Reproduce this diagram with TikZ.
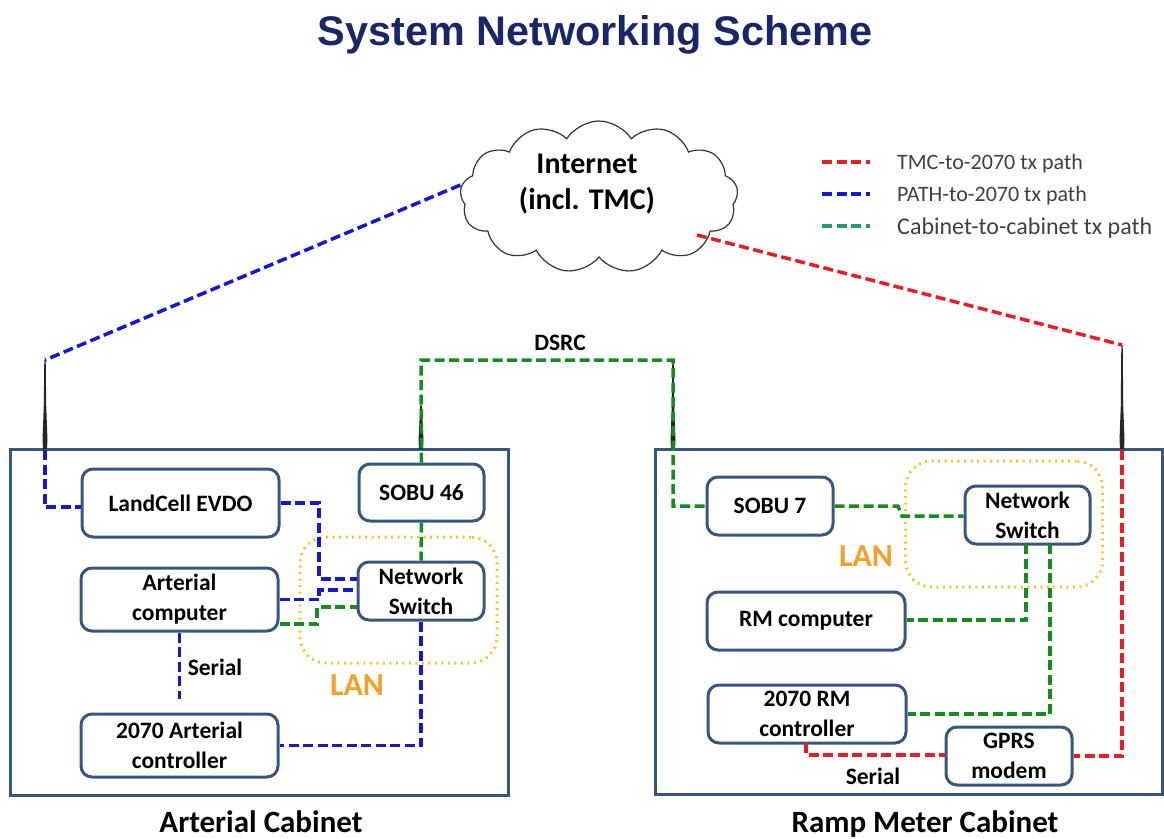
\documentclass[tikz,border=0pt]{standalone}
\usepackage{fontspec}
\setmainfont{Carlito}
\newfontfamily\titlefont{Liberation Sans}
\definecolor{myborder}{RGB}{56,87,128}
\definecolor{mynavy}{RGB}{25,38,105}
\definecolor{myred}{RGB}{235,28,36}
\definecolor{myblue}{RGB}{22,22,215}
\definecolor{mygreen}{RGB}{20,140,30}
\definecolor{myteal}{RGB}{30,160,100}
\definecolor{myyellow}{RGB}{245,200,40}
\definecolor{myorange}{RGB}{245,160,40}
\usetikzlibrary{shapes.symbols,positioning}
\tikzstyle{cabinet}=[draw=myborder,line width=3pt,minimum width=498pt,minimum height=346pt,inner sep=0pt]
\tikzstyle{device}=[draw=myborder,fill=white,line width=3pt,rounded corners=11pt,align=center,inner sep=0pt,font=\bfseries\fontsize{23.5}{30}\selectfont]
\tikzstyle{lanbox}=[draw=myyellow,line width=3pt,dash pattern=on 2pt off 4.5pt,rounded corners=26pt,minimum width=197pt,minimum height=126pt,inner sep=0pt]
\tikzstyle{lanlabel}=[text=myorange,font=\bfseries\fontsize{32}{36}\selectfont]
\tikzstyle{caption}=[anchor=base,inner sep=0pt,font=\bfseries\fontsize{31}{36}\selectfont]
\tikzstyle{linklabel}=[font=\bfseries\fontsize{23.5}{26}\selectfont]
\tikzstyle{legendlabel}=[anchor=west,inner sep=0pt,text=black!75,font=\fontsize{22}{26}\selectfont]
\tikzstyle{antenna}=[fill=black!85]
\tikzstyle{link}=[line width=3.5pt,dash pattern=on 10pt off 4.5pt]
\tikzstyle{bluelink}=[link,draw=myblue]
\tikzstyle{redlink}=[link,draw=myred]
\tikzstyle{greenlink}=[link,draw=mygreen]

\begin{document}
\begin{tikzpicture}[x=1pt,y=-1pt]
\useasboundingbox (0, 0) rectangle (1164, 838);
\draw (595, 35) node [text=mynavy,font=\titlefont\bfseries\fontsize{41.4}{46}\selectfont] (title) {System Networking Scheme};

\draw (599, 197) node [cloud,draw=black!80,fill=white,line width=1.2pt,cloud puffs=13,cloud puff arc=115,aspect=1.85,minimum width=278pt,minimum height=152pt,inner sep=0pt] (internet) {};
\draw (587, 184) node [align=center,inner sep=0pt,font=\bfseries\fontsize{30}{36}\selectfont] (internetlabel) {Internet\\(incl. TMC)};

\draw (259, 622) node [cabinet] (arterial) {};
\draw (908.5, 621.5) node [cabinet,minimum width=507pt,minimum height=345pt] (ramp) {};

\draw (398.5, 600) node [lanbox] (lanA) {};
\draw (1004, 524) node [lanbox] (lanB) {};

\coordinate (tipA) at (45, 360);
\coordinate (tipB) at (421, 360);
\coordinate (tipC) at (673, 360);
\coordinate (tipD) at (1122, 345);

\draw (180.5, 503) node [device,minimum width=197pt,minimum height=68pt] (landcell) {LandCell EVDO};
\draw (421.5, 492.5) node [device,minimum width=125pt,minimum height=57pt] (sobuA) {SOBU 46};
\draw (421, 591) node [device,minimum width=126pt,minimum height=58pt] (switchA) {Network\\Switch};
\draw (179.5, 599.5) node [device,minimum width=197pt,minimum height=63pt] (computerA) {Arterial\\computer};
\draw (179.5, 745.5) node [device,minimum width=197pt,minimum height=63pt] (controllerA) {2070 Arterial\\controller};

\draw (770, 506) node [device,minimum width=126pt,minimum height=58pt] (sobuB) {SOBU 7};
\draw (1027.5, 515) node [device,minimum width=125pt,minimum height=58pt] (switchB) {Network\\Switch};
\draw (806, 621) node [device,minimum width=198pt,minimum height=58pt] (computerB) {RM computer};
\draw (807, 714) node [device,minimum width=198pt,minimum height=58pt] (controllerB) {2070 RM\\controller};
\draw (1009, 756) node [device,minimum width=126pt,minimum height=58pt] (gprs) {GPRS\\modem};

\fill [antenna] (44.3, 360) -- (45.7, 360) -- (46.2, 405) -- (47.5, 440) -- (47, 449) -- (43, 449) -- (42.5, 440) -- (43.8, 405) -- cycle;
\fill [antenna] (420.3, 405) -- (421.7, 405) -- (423.5, 440) -- (423, 449) -- (419, 449) -- (418.5, 440) -- cycle;
\fill [antenna] (672.3, 360) -- (673.7, 360) -- (674.2, 405) -- (675.5, 440) -- (675, 449) -- (671, 449) -- (670.5, 440) -- (671.8, 405) -- cycle;
\fill [antenna] (1121.3, 345) -- (1122.7, 345) -- (1123.2, 405) -- (1124.5, 440) -- (1124, 449) -- (1120, 449) -- (1119.5, 440) -- (1120.8, 405) -- cycle;

\draw [bluelink] (internet.west |- 0,185) -- (tipA);
\draw [bluelink] (tipA |- 0,450) -- (tipA |- 0,507) -- (landcell.west |- 0,507);
\draw [bluelink] (landcell.east) -- (319, 503) -- (319, 579) -- (switchA.west |- 0,579);
\draw [bluelink] (computerA.east) -- (319, 599.5) -- (319, 590) -- (switchA.west |- 0,590);
\draw [bluelink,shorten >=14pt] (computerA.south) -- (controllerA.north);
\draw [bluelink] (switchA.south) -- (switchA.south |- controllerA.east) -- (controllerA.east);
\draw [greenlink] (computerA.east |- 0,624) -- (317, 624) -- (317, 607) -- (switchA.west |- 0,607);
\draw [greenlink] (sobuA.south) -- (switchA.north);
\draw [greenlink] (sobuA.north) -- (tipB) -- (tipC) -- (tipC |- sobuB.west) -- (sobuB.west);
\draw [greenlink] (sobuB.east) -- (898, 506) -- (902, 516) -- (switchB.west |- 0,516);
\draw [greenlink] (1026, 544) -- (1026, 620) -- (computerB.east |- 0,620);
\draw [greenlink] (1050, 544) -- (1050, 714) -- (controllerB.east);
\draw [redlink] (697, 235) -- (tipD);
\draw [redlink] (tipD |- 0,450) -- (tipD |- gprs.east) -- (gprs.east);
\draw [redlink] (806, 743) -- (806, 755) -- (gprs.west |- 0,755);

\draw (560, 343) node [linklabel] (dsrc) {DSRC};
\draw (215, 667) node [linklabel] (serialA) {Serial};
\draw (873, 776) node [linklabel] (serialB) {Serial};
\draw (357, 685) node [lanlabel] (lanlabelA) {LAN};
\draw (866, 556) node [lanlabel] (lanlabelB) {LAN};
\draw (261, 832) node [caption] (captionA) {Arterial Cabinet};
\draw (925, 832) node [caption] (captionB) {Ramp Meter Cabinet};

\draw (897, 164) node [legendlabel] (legendA) {TMC-to-2070 tx path};
\draw (897, 196) node [legendlabel] (legendB) {PATH-to-2070 tx path};
\draw (897, 228) node [legendlabel,font=\fontsize{24}{26}\selectfont] (legendC) {Cabinet-to-cabinet tx path};
\coordinate (keyA) at (822, 162);
\coordinate (keyB) at (822, 194);
\coordinate (keyC) at (822, 226);
\draw [redlink] (keyA) -- (870, 162);
\draw [bluelink] (keyB) -- (870, 194);
\draw [link,draw=myteal] (keyC) -- (870, 226);
\end{tikzpicture}
\end{document}
